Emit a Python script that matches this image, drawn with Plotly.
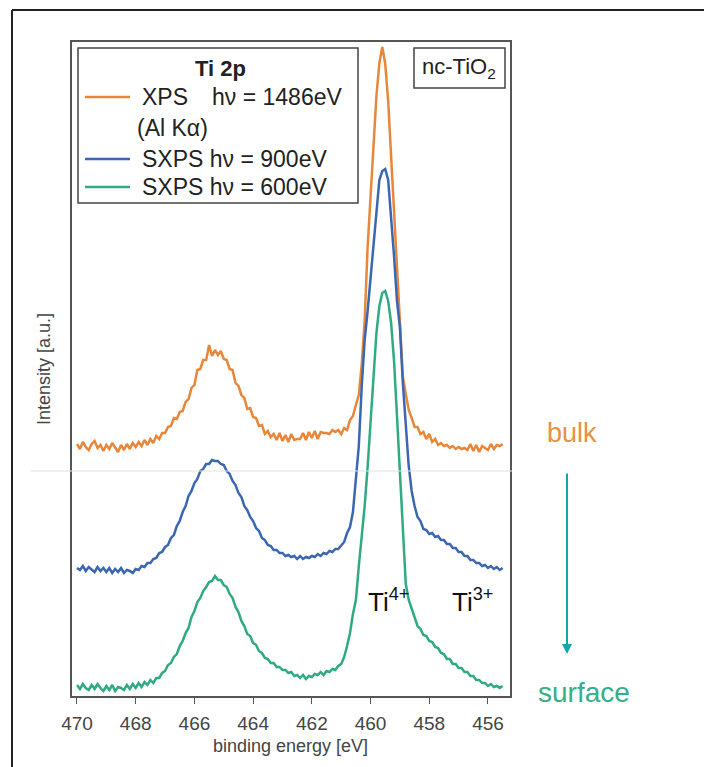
import numpy as np
import plotly.graph_objects as go

# binding energy grid (eV), 470.0 down to 455.5 in 0.1 eV steps
energy = np.round(np.linspace(470.0, 455.5, 146), 2)

xps_1486 = [
    252, 247, 254, 249, 246, 252, 255, 248, 251, 245,
    251, 247, 253, 248, 244, 251, 246, 252, 247, 253,
    249, 254, 250, 256, 251, 257, 253, 260, 257, 263,
    263, 269, 270, 278, 277, 284, 285, 294, 297, 308,
    311, 326, 327, 336, 336, 351, 340, 346, 341, 345,
    337, 336, 327, 326, 313, 310, 301, 298, 287, 288,
    279, 278, 270, 271, 262, 265, 259, 262, 256, 263,
    255, 261, 254, 262, 256, 257, 257, 263, 256, 264,
    258, 265, 257, 264, 263, 263, 262, 266, 264, 266,
    262, 268, 266, 276, 280, 291, 301, 332, 376, 449,
    500, 550, 600, 633, 649, 632, 595, 540, 485, 425,
    370, 319, 302, 286, 278, 269, 269, 262, 264, 257,
    262, 254, 257, 251, 253, 250, 251, 248, 250, 247,
    249, 247, 248, 246, 252, 245, 251, 244, 250, 248,
    246, 252, 247, 251, 250, 252,
]

sxps_900 = [
    128, 126, 130, 125, 129, 126, 124, 129, 125, 128,
    124, 128, 123, 127, 124, 128, 123, 126, 125, 123,
    127, 126, 130, 129, 133, 133, 137, 138, 143, 144,
    149, 151, 158, 161, 170, 175, 184, 190, 200, 205,
    213, 217, 225, 227, 232, 232, 236, 235, 235, 232,
    231, 225, 222, 215, 211, 203, 199, 190, 186, 179,
    175, 168, 165, 158, 156, 151, 150, 146, 146, 143,
    143, 140, 141, 139, 140, 137, 140, 137, 139, 138,
    140, 139, 142, 140, 143, 142, 145, 144, 147, 147,
    151, 154, 163, 169, 184, 215, 250, 310, 356, 385,
    420, 455, 490, 516, 525, 527, 516, 480, 440, 395,
    369, 313, 270, 230, 205, 190, 179, 175, 167, 166,
    162, 163, 159, 160, 156, 156, 152, 152, 148, 148,
    144, 144, 140, 140, 136, 136, 133, 133, 130, 131,
    128, 130, 127, 129, 126, 128,
]

sxps_600 = [
    11, 7, 12, 8, 6, 11, 7, 12, 8, 5,
    10, 6, 11, 5, 9, 8, 6, 11, 7, 12,
    8, 13, 9, 14, 11, 16, 13, 18, 18, 23,
    25, 31, 33, 39, 42, 50, 55, 63, 68, 79,
    85, 94, 98, 105, 109, 114, 115, 120, 116, 116,
    111, 109, 102, 98, 89, 84, 75, 70, 62, 60,
    53, 51, 45, 43, 38, 37, 33, 33, 29, 29,
    26, 26, 23, 24, 20, 21, 18, 21, 17, 20,
    19, 22, 21, 24, 21, 25, 24, 27, 26, 30,
    32, 39, 50, 63, 82, 96, 130, 157, 190, 229,
    275, 320, 363, 390, 403, 405, 395, 373, 335, 280,
    225, 163, 112, 96, 88, 79, 70, 67, 61, 60,
    55, 54, 49, 48, 43, 42, 37, 37, 32, 32,
    28, 28, 24, 24, 20, 20, 16, 16, 13, 13,
    10, 12, 9, 10, 8, 10,
]

x_ticks = [470, 468, 466, 464, 462, 460, 458, 456]

ORANGE = "#E8873A"
BLUE = "#3B66B0"
GREEN = "#2FAA82"
TEAL = "#1AA3A8"
FONT = "Liberation Sans, Arial, sans-serif"

fig = go.Figure()
for name, vals, col in [("XPS", xps_1486, ORANGE),
                        ("SXPS 900", sxps_900, BLUE),
                        ("SXPS 600", sxps_600, GREEN)]:
    fig.add_trace(go.Scatter(x=energy, y=vals, mode="lines", name=name,
                             line=dict(color=col, width=2.5), showlegend=False))

L, T, W, H = 72, 42, 438, 654
def px(x):
    return (x - L) / W
def py(y):
    return (T + H - y) / H

shapes = []
# outer frame
shapes.append(dict(type="line", xref="paper", yref="paper", x0=px(12), x1=px(704), y0=py(10), y1=py(10),
                   line=dict(color="#222", width=2)))
shapes.append(dict(type="line", xref="paper", yref="paper", x0=px(12), x1=px(12), y0=py(10), y1=py(767),
                   line=dict(color="#222", width=2)))
# faint horizontal line
shapes.append(dict(type="line", xref="paper", yref="paper", x0=px(30), x1=px(512), y0=py(471), y1=py(471),
                   line=dict(color="#e2e2e2", width=1)))
# legend box
shapes.append(dict(type="rect", xref="paper", yref="paper", x0=px(78), x1=px(358), y0=py(203), y1=py(48),
                   line=dict(color="#444", width=1.5), fillcolor="white"))
# nc-TiO2 box
shapes.append(dict(type="rect", xref="paper", yref="paper", x0=px(414), x1=px(505), y0=py(88), y1=py(48),
                   line=dict(color="#444", width=1.5), fillcolor="white"))
# legend samples
for yy, col in [(97, ORANGE), (159, BLUE), (187, GREEN)]:
    shapes.append(dict(type="line", xref="paper", yref="paper", x0=px(85), x1=px(130), y0=py(yy), y1=py(yy),
                       line=dict(color=col, width=2.6)))

ann = []
def txt(x, y, s, size, color="#222", xanchor="left", bold=False, **kw):
    if bold:
        s = "<b>" + s + "</b>"
    ann.append(dict(xref="paper", yref="paper", x=px(x), y=py(y), text=s, showarrow=False,
                    xanchor=xanchor, yanchor="middle", font=dict(family=FONT, size=size, color=color), **kw))

txt(220, 68, "Ti 2p", 22, xanchor="center", bold=True)
txt(140, 97, "XPS", 23)
txt(210, 97, "hν = 1486eV", 23)
txt(135, 128, "(Al Kα)", 23)
txt(140, 159, "SXPS hν = 900eV", 23)
txt(140, 187, "SXPS hν = 600eV", 23)
txt(459, 68, "nc-TiO<sub>2</sub>", 22, xanchor="center")
txt(388, 600, "Ti<sup>4+</sup>", 26, xanchor="center", color="#111")
txt(472, 600, "Ti<sup>3+</sup>", 26, xanchor="center", color="#111")
txt(572, 433, "bulk", 27, xanchor="center", color="#E8913F")
txt(584, 692, "surface", 28, xanchor="center", color="#36AE88")
txt(290, 746, "binding energy [eV]", 18, xanchor="center", color="#444")
txt(44, 369, "Intensity [a.u.]", 18, xanchor="center", color="#444", textangle=-90)

# arrow bulk -> surface
ann.append(dict(xref="paper", yref="paper", x=px(567), y=py(654), ax=0, ay=-182,
                axref="pixel", ayref="pixel", text="", showarrow=True,
                arrowhead=2, arrowsize=1, arrowwidth=2, arrowcolor=TEAL))

fig.update_layout(
    width=704, height=767,
    margin=dict(l=L, r=704 - L - W, t=T, b=767 - T - H),
    paper_bgcolor="white", plot_bgcolor="white",
    font=dict(family=FONT),
    shapes=shapes, annotations=ann,
    xaxis=dict(range=[470.17, 455.25], tickvals=x_ticks, ticktext=[str(v) for v in x_ticks],
               ticks="outside", ticklen=6, tickwidth=1.2, tickcolor="#555",
               ticklabelstandoff=3,
               showline=True, mirror=True, linecolor="#555", linewidth=1.5,
               showgrid=False, zeroline=False, tickfont=dict(size=19, color="#444")),
    yaxis=dict(range=[0, 654], showticklabels=False, ticks="",
               showline=True, mirror=True, linecolor="#555", linewidth=1.5,
               showgrid=False, zeroline=False),
)

fig.write_html("out.html", config={"displayModeBar": False},
               post_script="document.body.style.margin='0';document.body.style.overflow='hidden';")
